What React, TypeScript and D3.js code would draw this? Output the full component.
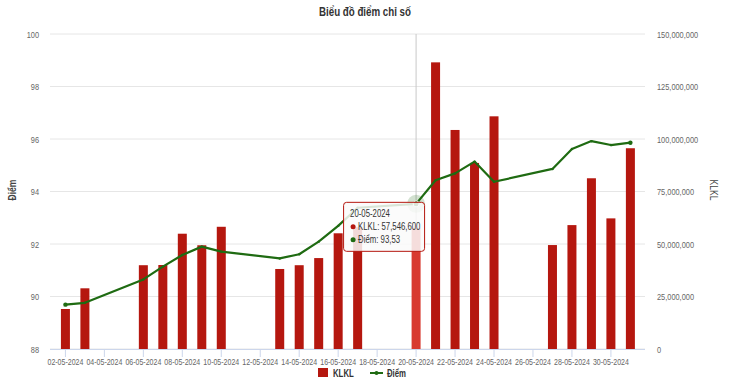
import React from "react";
import * as d3 from "d3";

// dữ liệu
const dates = [
  "02-05-2024", "03-05-2024", "06-05-2024", "07-05-2024", "08-05-2024",
  "09-05-2024", "10-05-2024", "13-05-2024", "14-05-2024", "15-05-2024",
  "16-05-2024", "17-05-2024", "20-05-2024", "21-05-2024", "22-05-2024",
  "23-05-2024", "24-05-2024", "27-05-2024", "28-05-2024", "29-05-2024",
  "30-05-2024", "31-05-2024",
];
const klkl = [
  19050000, 28900000, 39900000, 40000000, 54900000,
  49400000, 58200000, 38100000, 39900000, 43300000,
  55100000, 58000000, 57546600, 136500000, 104300000,
  88600000, 110800000, 49500000, 59000000, 81300000,
  62200000, 95600000,
];
const diem = [
  89.69, 89.76, 90.65, 91.14, 91.58,
  91.9, 91.71, 91.45, 91.61, 92.09,
  92.69, 93.38, 93.53, 94.43, 94.69,
  95.14, 94.37, 94.86, 95.62, 95.92,
  95.77, 95.86,
];
const xTickLabels = [
  "02-05-2024", "04-05-2024", "06-05-2024", "08-05-2024", "10-05-2024",
  "12-05-2024", "14-05-2024", "16-05-2024", "18-05-2024", "20-05-2024",
  "22-05-2024", "24-05-2024", "26-05-2024", "28-05-2024", "30-05-2024",
];
const leftTicks = [88, 90, 92, 94, 96, 98, 100];
const rightTicks = [0, 25000000, 50000000, 75000000, 100000000, 125000000, 150000000];
const hoverDate = "20-05-2024";

const size = { width: 730, height: 385, left: 50, right: 645, top: 34, bottom: 349 };
const FONT = "'Liberation Sans', Arial, sans-serif";
const BAR = "#b5170f";
const LINE = "#1f6b12";

// chữ hẹp (font gốc là loại condensed)
const T = ({ x, y, anchor = "start", fs = 9.5, bold = false, fill = "#666", rot = 0, children }: any) => (
  <text
    transform={`translate(${x} ${y}) rotate(${rot}) scale(0.78 1)`}
    textAnchor={anchor}
    fontSize={fs}
    fontWeight={bold ? "bold" : "normal"}
    fill={fill}
  >
    {children}
  </text>
);

const App = () => {
  const parse = d3.timeParse("%d-%m-%Y");
  const days = dates.map((d) => parse(d) as Date);

  const x = d3
    .scaleTime()
    .domain([d3.timeHour.offset(days[0], -18.5), d3.timeHour.offset(days[days.length - 1], 18.5)])
    .range([size.left, size.right]);
  const yLeft = d3.scaleLinear().domain([88, 100]).range([size.bottom, size.top]);
  const yRight = d3.scaleLinear().domain([0, 150000000]).range([size.bottom, size.top]);
  const fmt = d3.format(",");

  const line = d3
    .line<number>()
    .x((_, i) => x(days[i]))
    .y((v) => yLeft(v));

  const hi = dates.indexOf(hoverDate);
  const hx = x(days[hi]);
  const hy = yLeft(diem[hi]);
  const barW = 9;

  return (
    <svg
      width={size.width}
      height={size.height}
      style={{ position: "absolute", left: 0, top: 0, background: "#fff" }}
      fontFamily={FONT}
    >
      <T x={365} y={16} anchor="middle" fs={12.5} bold fill="#333">
        Biểu đồ điểm chỉ số
      </T>

      {/* lưới */}
      {leftTicks.map((t) => (
        <g key={t}>
          <line x1={size.left} x2={size.right} y1={yLeft(t)} y2={yLeft(t)} stroke="#e6e6e6" />
          <T x={39} y={yLeft(t) + 3.5} anchor="end">
            {t}
          </T>
        </g>
      ))}
      {rightTicks.map((t) => (
        <T key={t} x={657} y={yRight(t) + 3.5}>
          {fmt(t)}
        </T>
      ))}

      <T x={16} y={190} rot={-90} anchor="middle" fs={11} bold fill="#444">
        Điểm
      </T>
      <T x={710} y={190} rot={90} anchor="middle" fs={11} fill="#444">
        KLKL
      </T>

      {/* crosshair */}
      <line x1={hx} x2={hx} y1={size.top} y2={size.bottom} stroke="#c8c8c8" />

      {/* cột */}
      {klkl.map((v, i) => (
        <rect
          key={i}
          x={x(days[i]) - barW / 2}
          y={yRight(v)}
          width={barW}
          height={size.bottom - yRight(v)}
          fill={i === hi ? "#d83a30" : BAR}
        />
      ))}

      {/* trục x */}
      <line x1={size.left} x2={size.right} y1={size.bottom + 0.5} y2={size.bottom + 0.5} stroke="#ccd6eb" />
      {xTickLabels.map((t) => {
        const tx = x(parse(t) as Date);
        return (
          <g key={t}>
            <line x1={tx} x2={tx} y1={size.bottom} y2={size.bottom + 8} stroke="#ccd6eb" />
            <T x={tx} y={365} anchor="middle" fs={9}>
              {t}
            </T>
          </g>
        );
      })}

      {/* đường điểm */}
      <circle cx={hx} cy={hy} r={9} fill={LINE} opacity={0.2} />
      <path d={line(diem) || ""} fill="none" stroke={LINE} strokeWidth={2.2} strokeLinejoin="round" />
      {diem.map((v, i) => (
        <circle key={i} cx={x(days[i])} cy={yLeft(v)} r={i === 0 || i === diem.length - 1 ? 2.2 : 1.2} fill={LINE} />
      ))}
      <circle cx={hx} cy={hy} r={3} fill={LINE} stroke="#fff" strokeWidth={1} />

      {/* tooltip */}
      <g transform={`translate(${hx - 73} ${hy - 2})`}>
        <rect x={0.5} y={0.5} width={81} height={49} rx={3} fill="rgba(250,250,250,0.85)" stroke={BAR} />
        <T x={7} y={15} fs={10} fill="#333">
          {hoverDate}
        </T>
        <circle cx={10} cy={25} r={2.5} fill={BAR} />
        <T x={15} y={28.5} fs={10} fill="#333">
          KLKL: {fmt(klkl[hi])}
        </T>
        <circle cx={10} cy={38} r={2.5} fill={LINE} />
        <T x={15} y={41.5} fs={10} fill="#333">
          Điểm: {diem[hi].toFixed(2).replace(".", ",")}
        </T>
      </g>

      {/* chú giải */}
      <rect x={318} y={368} width={10} height={9} fill={BAR} />
      <T x={333} y={376.5} fs={10} bold fill="#333">
        KLKL
      </T>
      <line x1={370} x2={383} y1={373} y2={373} stroke={LINE} strokeWidth={2} />
      <circle cx={376.5} cy={373} r={2} fill={LINE} />
      <T x={387} y={376.5} fs={10} bold fill="#333">
        Điểm
      </T>
    </svg>
  );
};

export default App;
